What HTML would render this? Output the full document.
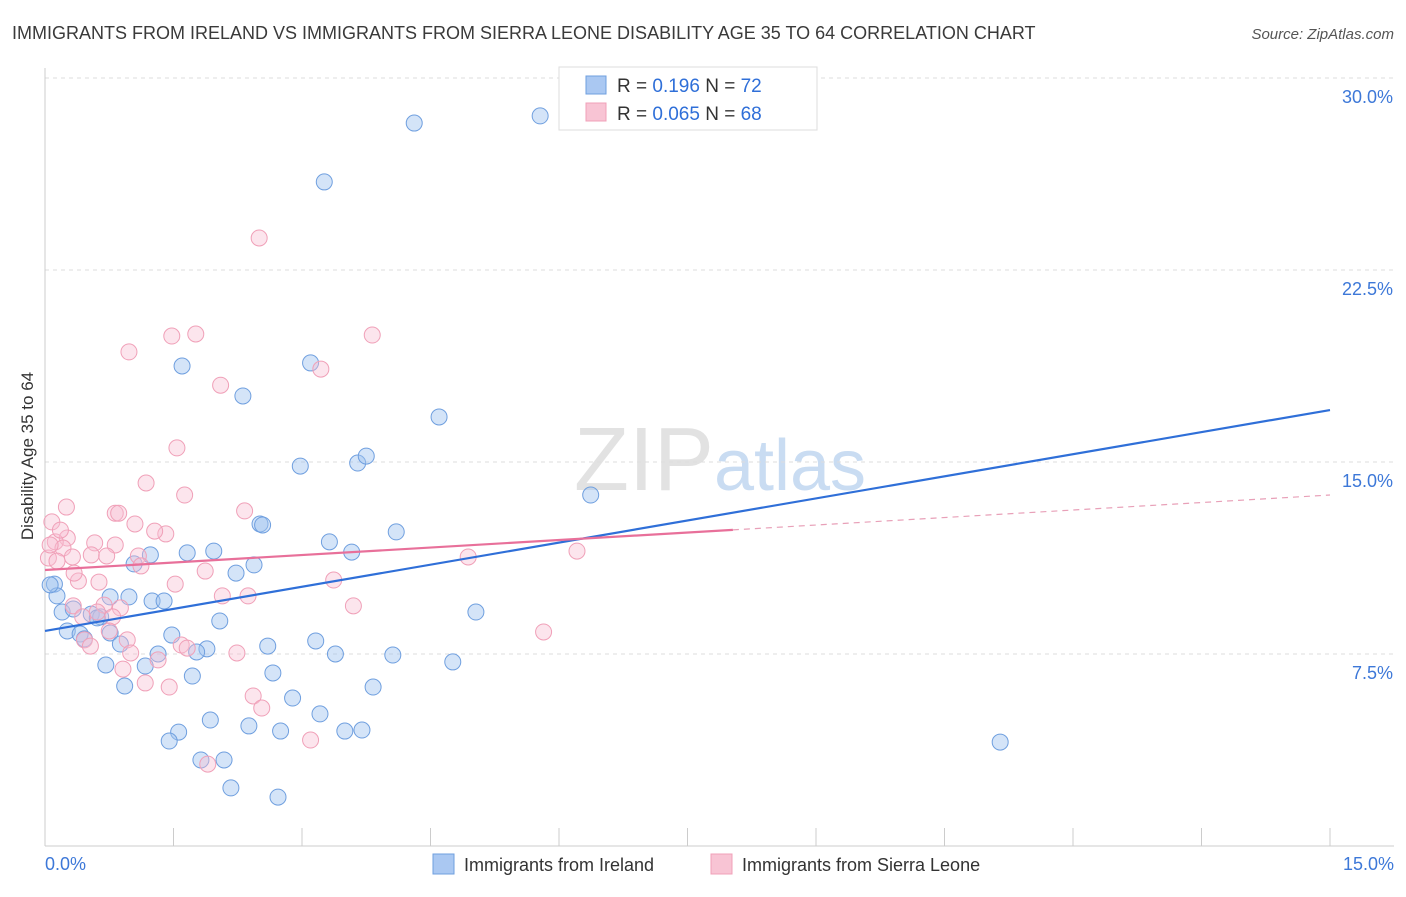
<!DOCTYPE html>
<html><head><meta charset="utf-8"><style>
body{margin:0;background:#fff;font-family:"Liberation Sans",sans-serif;}
svg text{font-family:"Liberation Sans",sans-serif;}
</style></head><body>
<svg id="chart" width="1406" height="892" viewBox="0 0 1406 892" xmlns="http://www.w3.org/2000/svg">
<text x="12" y="39" font-size="18" fill="#3a3a3a">IMMIGRANTS FROM IRELAND VS IMMIGRANTS FROM SIERRA LEONE DISABILITY AGE 35 TO 64 CORRELATION CHART</text>
<text x="1394" y="39" font-size="15" fill="#555" text-anchor="end" font-style="italic">Source: ZipAtlas.com</text>
<text x="720" y="490" font-size="90" fill="#e2e2e2" text-anchor="middle" font-family="Liberation Serif">ZIP<tspan fill="#c9dcf2" font-family="Liberation Sans" font-size="72">atlas</tspan></text>
<g id="grid"></g>
<g id="axes"></g>
<g id="pts"></g>
<g id="lines"></g>
<text transform="translate(33,456) rotate(-90)" font-size="17" fill="#333" text-anchor="middle">Disability Age 35 to 64</text>
<g>
<rect x="559" y="67" width="258" height="63" fill="#fff" stroke="#ddd"/>
<rect x="586" y="76" width="20" height="18" fill="#aac8f2" stroke="#6f9fdf"/>
<rect x="586" y="103" width="20" height="18" fill="#f8c4d4" stroke="#f0a0b8"/>
<text x="617" y="92" font-size="19" fill="#333">R = <tspan fill="#2f6fd8"> 0.196</tspan>   N = <tspan fill="#2f6fd8">72</tspan></text>
<text x="617" y="120" font-size="19" fill="#333">R = <tspan fill="#2f6fd8">0.065</tspan>   N = <tspan fill="#2f6fd8">68</tspan></text>
</g>
<g>
<rect x="433" y="854" width="21" height="20" fill="#aac8f2" stroke="#6f9fdf"/>
<text x="464" y="871" font-size="18" fill="#333">Immigrants from Ireland</text>
<rect x="711" y="854" width="21" height="20" fill="#f8c4d4" stroke="#f0a0b8"/>
<text x="742" y="871" font-size="18" fill="#333">Immigrants from Sierra Leone</text>
</g>
</svg>
<script>
const yTicks=[7.5,15,22.5,30];
const yTickLabels=["7.5%","15.0%","22.5%","30.0%"];
const xTickCount=10;
const irelandX=[4.31,5.78,3.26,1.60,3.10,2.31,4.60,2.98,3.65,3.75,6.37,2.51,2.54,4.10,3.32,1.66,1.97,3.58,1.23,1.04,2.44,2.23,0.11,0.14,0.76,0.98,1.25,1.39,0.20,0.33,0.54,0.65,5.03,2.04,0.26,0.41,0.76,0.88,1.48,1.89,1.77,1.32,2.60,3.16,3.39,4.06,4.76,0.71,1.17,2.66,1.72,0.93,3.83,2.89,3.21,1.93,1.56,2.38,2.75,3.50,3.70,1.45,1.82,2.09,2.17,2.72,11.15,0.46,0.61,0.06];
const irelandY=[28.24,28.52,25.94,18.75,18.87,17.58,16.76,14.84,14.96,15.23,13.71,12.58,12.54,12.27,11.88,11.45,11.52,11.48,11.37,11.02,10.98,10.66,10.23,9.77,9.73,9.73,9.57,9.57,9.14,9.26,9.06,8.95,9.14,8.79,8.40,8.28,8.32,7.89,8.24,7.70,7.58,7.50,7.81,8.01,7.50,7.46,7.19,7.07,7.03,6.76,6.64,6.25,6.21,5.78,5.16,4.92,4.45,4.69,4.49,4.49,4.53,4.10,3.36,3.36,2.27,1.91,4.06,8.09,8.91,10.2];
const sierraX=[2.50,3.82,1.76,1.48,0.98,3.22,2.05,1.54,1.18,1.63,0.25,2.33,0.82,0.86,0.08,1.05,1.41,1.28,0.26,0.12,0.21,0.58,0.82,0.54,0.72,1.09,0.04,0.14,0.32,4.94,6.21,1.12,1.87,0.39,0.63,1.52,3.37,2.37,2.07,0.33,0.69,0.88,3.60,0.44,0.79,0.75,0.96,0.46,0.53,1.59,1.66,2.24,1.0,1.32,0.91,1.17,1.45,2.43,2.53,3.10,1.90,5.82,0.18,0.06,0.34,0.61];
const sierraY=[23.75,19.96,20.0,19.92,19.3,18.63,18.0,15.55,14.18,13.71,13.24,13.09,13.0,13.0,12.66,12.58,12.19,12.3,12.03,11.88,11.64,11.84,11.76,11.37,11.33,11.33,11.25,11.13,11.29,11.29,11.52,10.94,10.74,10.35,10.31,10.23,10.39,9.77,9.77,9.38,9.41,9.3,9.38,8.95,8.95,8.4,8.05,8.05,7.81,7.85,7.73,7.54,7.54,7.27,6.91,6.37,6.21,5.86,5.39,4.14,3.2,8.36,12.34,11.76,10.66,9.14];
const irelandTrend=[8.4,17.03];
const sierraTrend=[10.78,13.71];
const sierraSolidEnd=8.03;
const NS="http://www.w3.org/2000/svg";
const X0=45,X1=1330,XMAX=15,Y0=846,YPX=25.6;
function sx(v){return X0+v/XMAX*(X1-X0);}
function sy(v){return Y0-v*YPX;}
function mk(tag,attrs,parent){const e=document.createElementNS(NS,tag);for(const k in attrs)e.setAttribute(k,attrs[k]);parent.appendChild(e);return e;}
const grid=document.getElementById('grid'),axes=document.getElementById('axes');
yTicks.forEach((t,i)=>{
 const l=mk('line',{x1:X0,x2:1394,y1:sy(t),y2:sy(t),stroke:'#ddd','stroke-dasharray':'4,4'},grid);
 
 
 const tx=mk('text',{x:1393,y:sy(t)+25,'font-size':18,fill:'#3d78d8','text-anchor':'end'},axes);
 tx.textContent=yTickLabels[i];
 
 
});
const yl=mk('line',{x1:X0,x2:X0,y1:68,y2:846,stroke:'#ccc'},axes);


const xl=mk('line',{x1:X0,x2:1394,y1:846,y2:846,stroke:'#ccc'},axes);


for(let i=0;i<=xTickCount;i++){const x=sx(i*XMAX/xTickCount);const t=mk('line',{x1:x,x2:x,y1:828,y2:846,stroke:'#ccc'},axes);
 
 }
const xa=mk('text',{x:45,y:870,'font-size':18,fill:'#3d78d8'},axes);xa.textContent='0.0%';


const xb=mk('text',{x:1394,y:870,'font-size':18,fill:'#3d78d8','text-anchor':'end'},axes);xb.textContent='15.0%';


const pts=document.getElementById('pts');
irelandX.forEach((v,i)=>{const c=mk('circle',{cx:sx(v),cy:sy(irelandY[i]),r:8,fill:'rgba(160,195,240,0.45)',stroke:'#6f9fdf','stroke-width':1},pts);
 
 });
sierraX.forEach((v,i)=>{const c=mk('circle',{cx:sx(v),cy:sy(sierraY[i]),r:8,fill:'rgba(248,190,210,0.4)',stroke:'#f0a0b8','stroke-width':1},pts);
 
 });
const lines=document.getElementById('lines');
const bl=mk('line',{x1:sx(0),y1:sy(irelandTrend[0]),x2:sx(XMAX),y2:sy(irelandTrend[1]),stroke:'#2f6fd8','stroke-width':2.2},lines);


const sm=sierraTrend[0]+(sierraTrend[1]-sierraTrend[0])*sierraSolidEnd/XMAX;
const pl=mk('line',{x1:sx(0),y1:sy(sierraTrend[0]),x2:sx(sierraSolidEnd),y2:sy(sm),stroke:'#e8709a','stroke-width':2.2},lines);


const pd=mk('line',{x1:sx(sierraSolidEnd),y1:sy(sm),x2:sx(XMAX),y2:sy(sierraTrend[1]),stroke:'#e8a0b8','stroke-width':1.2,'stroke-dasharray':'6,5'},lines);


</script>
</body></html>
